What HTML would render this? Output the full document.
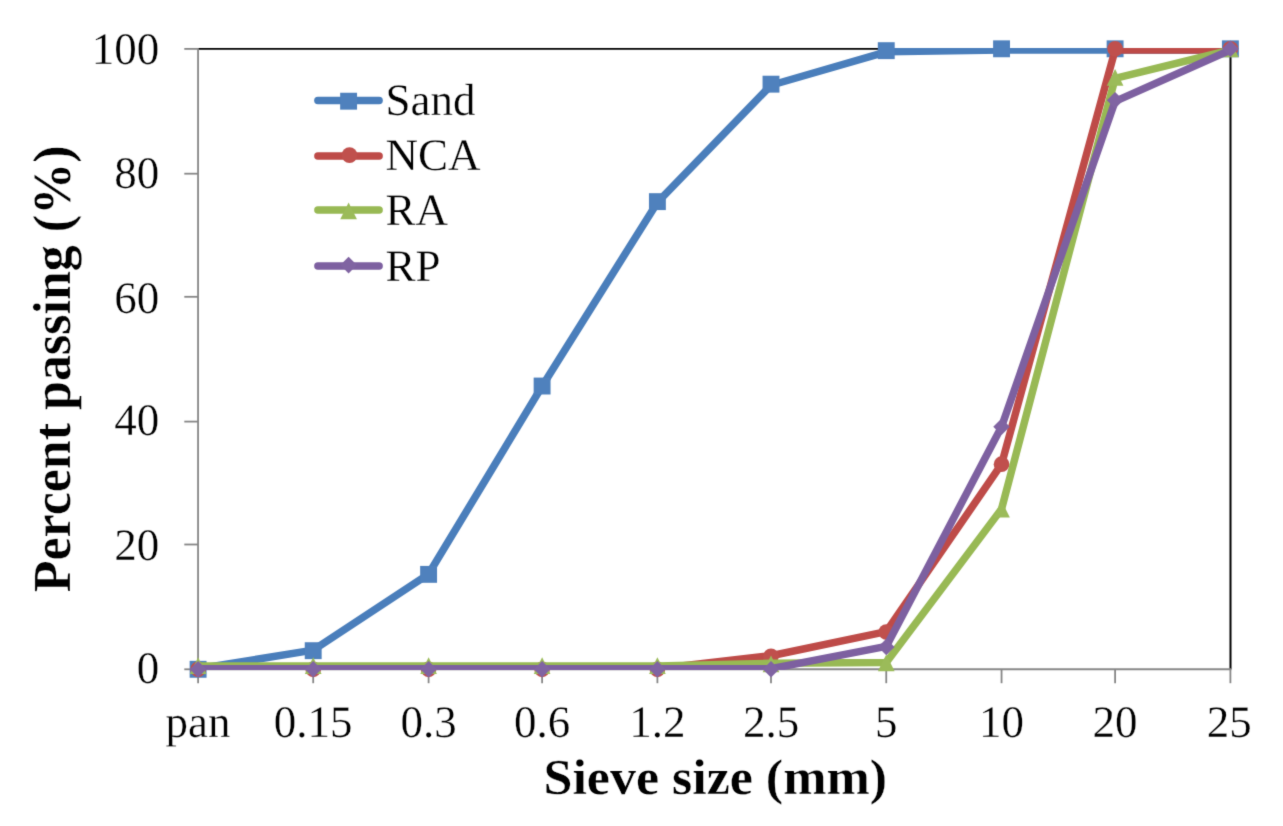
<!DOCTYPE html>
<html lang="en">
<head>
<meta charset="utf-8">
<title>Sieve analysis</title>
<style>
html,body{margin:0;padding:0;background:#fff;}
body{width:1283px;height:826px;overflow:hidden;font-family:"Liberation Serif",serif;}
svg{display:block;will-change:transform;transform:translateZ(0);}
text{font-family:"Liberation Serif",serif;fill:#000;text-rendering:geometricPrecision;stroke:#fff;stroke-width:0.3px;paint-order:fill stroke;}
.t{font-size:45px;}
.b{font-size:52px;font-weight:bold;}
</style>
</head>
<body>
<svg width="1283" height="826" viewBox="0 0 1283 826">
<defs><filter id="soft" color-interpolation-filters="sRGB" x="0" y="0" width="1283" height="826" filterUnits="userSpaceOnUse"><feConvolveMatrix order="3" kernelMatrix="0.01440 0.09120 0.01440 0.09120 0.57760 0.09120 0.01440 0.09120 0.01440" divisor="1" edgeMode="duplicate" preserveAlpha="false"/></filter><clipPath id="plot"><rect x="196" y="48.0" width="1036" height="622.1"/></clipPath></defs>
<rect x="0" y="0" width="1283" height="826" fill="#fff"/>
<g filter="url(#soft)">
<rect x="0" y="0" width="1283" height="826" fill="#fff"/>

<path d="M198.1 48.9 H1231.4" fill="none" stroke="#000" stroke-width="1.7"/>
<path d="M1230.5 48.2 V669.3" fill="none" stroke="#000" stroke-width="2"/>
<g stroke="#868686" stroke-width="1.8" fill="none">
<path d="M198.05 48.2 V669.3"/>
<path d="M197.3 669.3 H1231.4" stroke="#888" stroke-width="2"/>
<path d="M184.3 48.90 H198.05"/>
<path d="M184.3 173.70 H198.05"/>
<path d="M184.3 296.80 H198.05"/>
<path d="M184.3 421.60 H198.05"/>
<path d="M184.3 544.50 H198.05"/>
<path d="M184.3 669.30 H198.05"/>
<path d="M198.10 669.3 V683.2"/>
<path d="M313.20 669.3 V683.2"/>
<path d="M428.60 669.3 V683.2"/>
<path d="M542.10 669.3 V683.2"/>
<path d="M657.40 669.3 V683.2"/>
<path d="M771.00 669.3 V683.2"/>
<path d="M886.25 669.3 V683.2"/>
<path d="M1001.55 669.3 V683.2"/>
<path d="M1115.10 669.3 V683.2"/>
<path d="M1230.40 669.3 V683.2"/>
</g>
<g clip-path="url(#plot)"><polyline points="198.10,668.70 313.20,650.14 428.60,574.04 542.10,386.26 657.40,202.39 771.00,85.27 886.25,51.86 1001.55,50.00 1115.10,50.00 1230.40,50.00" fill="none" stroke="#4A7EBB" stroke-width="7.5" stroke-linejoin="round" stroke-linecap="round"/></g>
<rect x="189.65" y="660.85" width="16.9" height="16.9" fill="#4F81BD"/>
<rect x="304.75" y="642.23" width="16.9" height="16.9" fill="#4F81BD"/>
<rect x="420.15" y="565.91" width="16.9" height="16.9" fill="#4F81BD"/>
<rect x="533.65" y="377.59" width="16.9" height="16.9" fill="#4F81BD"/>
<rect x="648.95" y="193.18" width="16.9" height="16.9" fill="#4F81BD"/>
<rect x="762.55" y="75.72" width="16.9" height="16.9" fill="#4F81BD"/>
<rect x="877.80" y="42.21" width="16.9" height="16.9" fill="#4F81BD"/>
<rect x="993.10" y="40.35" width="16.9" height="16.9" fill="#4F81BD"/>
<rect x="1106.65" y="40.35" width="16.9" height="16.9" fill="#4F81BD"/>
<rect x="1221.95" y="40.35" width="16.9" height="16.9" fill="#4F81BD"/>
<g clip-path="url(#plot)"><polyline points="198.10,668.70 313.20,668.70 428.60,668.70 542.10,668.70 657.40,668.70 771.00,655.71 886.25,631.58 1001.55,464.22 1115.10,50.00 1230.40,50.00" fill="none" stroke="#BE4B48" stroke-width="7.5" stroke-linejoin="round" stroke-linecap="round"/></g>
<circle cx="198.10" cy="669.30" r="7.85" fill="#C0504D"/>
<circle cx="313.20" cy="669.30" r="7.85" fill="#C0504D"/>
<circle cx="428.60" cy="669.30" r="7.85" fill="#C0504D"/>
<circle cx="542.10" cy="669.30" r="7.85" fill="#C0504D"/>
<circle cx="657.40" cy="669.30" r="7.85" fill="#C0504D"/>
<circle cx="771.00" cy="656.27" r="7.85" fill="#C0504D"/>
<circle cx="886.25" cy="632.07" r="7.85" fill="#C0504D"/>
<circle cx="1001.55" cy="464.22" r="7.85" fill="#C0504D"/>
<circle cx="1115.10" cy="48.80" r="7.85" fill="#C0504D"/>
<circle cx="1230.40" cy="48.80" r="7.85" fill="#C0504D"/>
<g clip-path="url(#plot)"><polyline points="198.10,666.10 313.20,666.10 428.60,666.10 542.10,666.10 657.40,666.10 771.00,663.26 886.25,662.51 1001.55,509.08 1115.10,78.46 1230.40,50.00" fill="none" stroke="#98B954" stroke-width="7.5" stroke-linejoin="round" stroke-linecap="round"/></g>
<path d="M198.10 657.35 L206.45 674.05 L189.75 674.05 Z" fill="#9BBB59"/>
<path d="M313.20 657.35 L321.55 674.05 L304.85 674.05 Z" fill="#9BBB59"/>
<path d="M428.60 657.35 L436.95 674.05 L420.25 674.05 Z" fill="#9BBB59"/>
<path d="M542.10 657.35 L550.45 674.05 L533.75 674.05 Z" fill="#9BBB59"/>
<path d="M657.40 657.35 L665.75 674.05 L649.05 674.05 Z" fill="#9BBB59"/>
<path d="M771.00 655.49 L779.35 672.19 L762.65 672.19 Z" fill="#9BBB59"/>
<path d="M886.25 654.43 L894.60 671.13 L877.90 671.13 Z" fill="#9BBB59"/>
<path d="M1001.55 500.86 L1009.90 517.56 L993.20 517.56 Z" fill="#9BBB59"/>
<path d="M1115.10 68.99 L1123.45 85.69 L1106.75 85.69 Z" fill="#9BBB59"/>
<path d="M1230.40 40.45 L1238.75 57.15 L1222.05 57.15 Z" fill="#9BBB59"/>
<g clip-path="url(#plot)"><polyline points="198.10,668.70 313.20,668.70 428.60,668.70 542.10,668.70 657.40,668.70 771.00,668.70 886.25,646.43 1001.55,426.79 1115.10,101.35 1230.40,50.00" fill="none" stroke="#7D60A0" stroke-width="7.5" stroke-linejoin="round" stroke-linecap="round"/></g>
<path d="M198.10 661.00 L206.40 669.30 L198.10 677.60 L189.80 669.30 Z" fill="#8064A2"/>
<path d="M313.20 661.00 L321.50 669.30 L313.20 677.60 L304.90 669.30 Z" fill="#8064A2"/>
<path d="M428.60 661.00 L436.90 669.30 L428.60 677.60 L420.30 669.30 Z" fill="#8064A2"/>
<path d="M542.10 661.00 L550.40 669.30 L542.10 677.60 L533.80 669.30 Z" fill="#8064A2"/>
<path d="M657.40 661.00 L665.70 669.30 L657.40 677.60 L649.10 669.30 Z" fill="#8064A2"/>
<path d="M771.00 661.00 L779.30 669.30 L771.00 677.60 L762.70 669.30 Z" fill="#8064A2"/>
<path d="M886.25 638.66 L894.55 646.96 L886.25 655.26 L877.95 646.96 Z" fill="#8064A2"/>
<path d="M1001.55 418.38 L1009.85 426.68 L1001.55 434.98 L993.25 426.68 Z" fill="#8064A2"/>
<path d="M1115.10 92.00 L1123.40 100.30 L1115.10 108.60 L1106.80 100.30 Z" fill="#8064A2"/>
<path d="M1230.40 40.50 L1238.70 48.80 L1230.40 57.10 L1222.10 48.80 Z" fill="#8064A2"/>
<path d="M317.9 100.4 H379.1" stroke="#4A7EBB" stroke-width="7.5" stroke-linecap="round" fill="none"/>
<rect x="340.15" y="92.75" width="16.9" height="16.9" fill="#4F81BD"/>
<text class="t" x="385.6" y="114.5">Sand</text>
<path d="M317.9 156.0 H379.1" stroke="#BE4B48" stroke-width="7.5" stroke-linecap="round" fill="none"/>
<circle cx="349.50" cy="155.10" r="7.85" fill="#C0504D"/>
<text class="t" x="385.6" y="170.3">NCA</text>
<path d="M317.9 210.1 H379.1" stroke="#98B954" stroke-width="7.5" stroke-linecap="round" fill="none"/>
<path d="M348.60 202.60 L356.95 219.30 L340.25 219.30 Z" fill="#9BBB59"/>
<text class="t" x="385.6" y="225.4">RA</text>
<path d="M317.9 266.05 H379.1" stroke="#7D60A0" stroke-width="7.5" stroke-linecap="round" fill="none"/>
<path d="M348.60 256.80 L356.90 265.10 L348.60 273.40 L340.30 265.10 Z" fill="#8064A2"/>
<text class="t" x="385.6" y="281.0">RP</text>
<text class="t" x="159.3" y="64.40" text-anchor="end">100</text>
<text class="t" x="159.3" y="187.50" text-anchor="end">80</text>
<text class="t" x="159.3" y="312.50" text-anchor="end">60</text>
<text class="t" x="159.3" y="435.30" text-anchor="end">40</text>
<text class="t" x="159.3" y="560.10" text-anchor="end">20</text>
<text class="t" x="159.3" y="683.10" text-anchor="end">0</text>
<text class="t" x="198.10" y="737.1" text-anchor="middle">pan</text>
<text class="t" x="313.20" y="737.1" text-anchor="middle">0.15</text>
<text class="t" x="428.60" y="737.1" text-anchor="middle">0.3</text>
<text class="t" x="542.10" y="737.1" text-anchor="middle">0.6</text>
<text class="t" x="657.40" y="737.1" text-anchor="middle">1.2</text>
<text class="t" x="771.00" y="737.1" text-anchor="middle">2.5</text>
<text class="t" x="886.25" y="737.1" text-anchor="middle">5</text>
<text class="t" x="1001.55" y="737.1" text-anchor="middle">10</text>
<text class="t" x="1115.10" y="737.1" text-anchor="middle">20</text>
<text class="t" x="1229.20" y="737.1" text-anchor="middle">25</text>
<text class="b" transform="translate(715.3 793.6) scale(1 0.965)" text-anchor="middle">Sieve size (mm)</text>
<text class="b" transform="translate(70.1 368.9) rotate(-90) scale(1 1.03)" text-anchor="middle">Percent passing (%)</text>
</g>
</svg>
</body>
</html>
